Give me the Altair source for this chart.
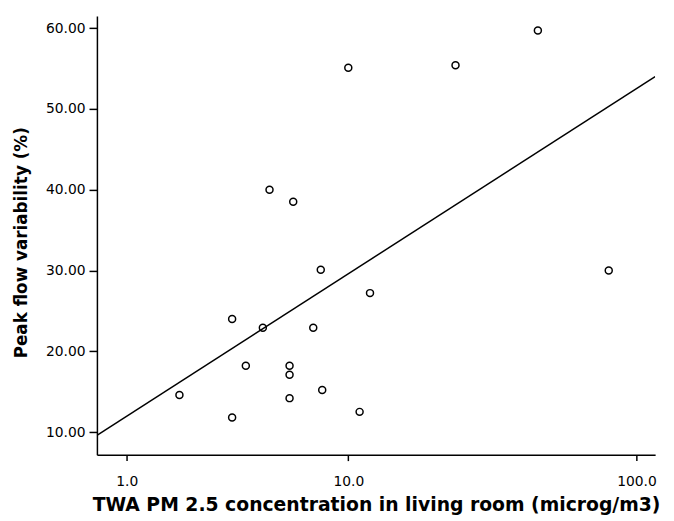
import altair as alt
import pandas as pd

# Scatter data
pm25 = [5.0, 6.2, 10.0, 24.1, 46.3, 7.9, 3.5, 4.7, 7.4, 4.0, 6.0, 6.0, 2.0, 8.0, 6.0, 3.5, 12.0, 11.0, 80.6]
pfv = [40.0, 38.5, 55.1, 55.4, 59.7, 30.1, 24.0, 22.9, 22.9, 18.2, 18.2, 17.1, 14.6, 15.2, 14.2, 11.8, 27.2, 12.5, 30.0]

# Fit line endpoints
line_x = [0.59, 115.6]
line_y = [9.6, 54.0]

x_ticks = [1, 10, 100]
y_ticks = [10, 20, 30, 40, 50, 60]

pts = pd.DataFrame({"x": pm25, "y": pfv})
fit = pd.DataFrame({"x": line_x, "y": line_y})

FONT = "DejaVu Sans"

xscale = alt.Scale(type="symlog", constant=1, domain=[0.59, 115.6], nice=False, zero=False)
yscale = alt.Scale(domain=[7.2, 61.5], nice=False, zero=False)

xaxis = alt.Axis(
    title="TWA PM 2.5 concentration in living room (microg/m3)",
    values=x_ticks, format=".1f", grid=False,
    domainColor="black", domainWidth=1.5, tickColor="black", tickWidth=1.5, tickSize=6,
    labelFont=FONT, labelFontSize=14, labelColor="black", labelPadding=14,
    titleFont=FONT, titleFontSize=19, titleFontWeight="bold", titleColor="black",
    titleBaseline="alphabetic", titleY=56,
)
yaxis = alt.Axis(
    title="Peak flow variability (%)",
    values=y_ticks, format=".2f", grid=False,
    domainColor="black", domainWidth=1.5, tickColor="black", tickWidth=1.5, tickSize=8,
    labelFont=FONT, labelFontSize=14, labelColor="black", labelPadding=4,
    titleFont=FONT, titleFontSize=17, titleFontWeight="bold", titleColor="black",
    titleBaseline="alphabetic", titleX=-71, titleY=229, titleAngle=-90,
)

points = alt.Chart(pts).mark_point(filled=False, color="black", size=50, strokeWidth=1.5, opacity=1).encode(
    x=alt.X("x:Q", scale=xscale, axis=xaxis),
    y=alt.Y("y:Q", scale=yscale, axis=yaxis),
)

line = alt.Chart(fit).mark_line(color="black", strokeWidth=1.5, clip=True).encode(
    x=alt.X("x:Q", scale=xscale),
    y=alt.Y("y:Q", scale=yscale),
)

chart = alt.layer(line, points).properties(
    width=565, height=444,
    padding={"left": 90, "top": 5, "right": 11, "bottom": 64},
    autosize=alt.AutoSizeParams(type="none"),
    background="white",
).configure_view(stroke=None)

chart.save("out.html", embed_options={"renderer": "svg", "actions": False})
